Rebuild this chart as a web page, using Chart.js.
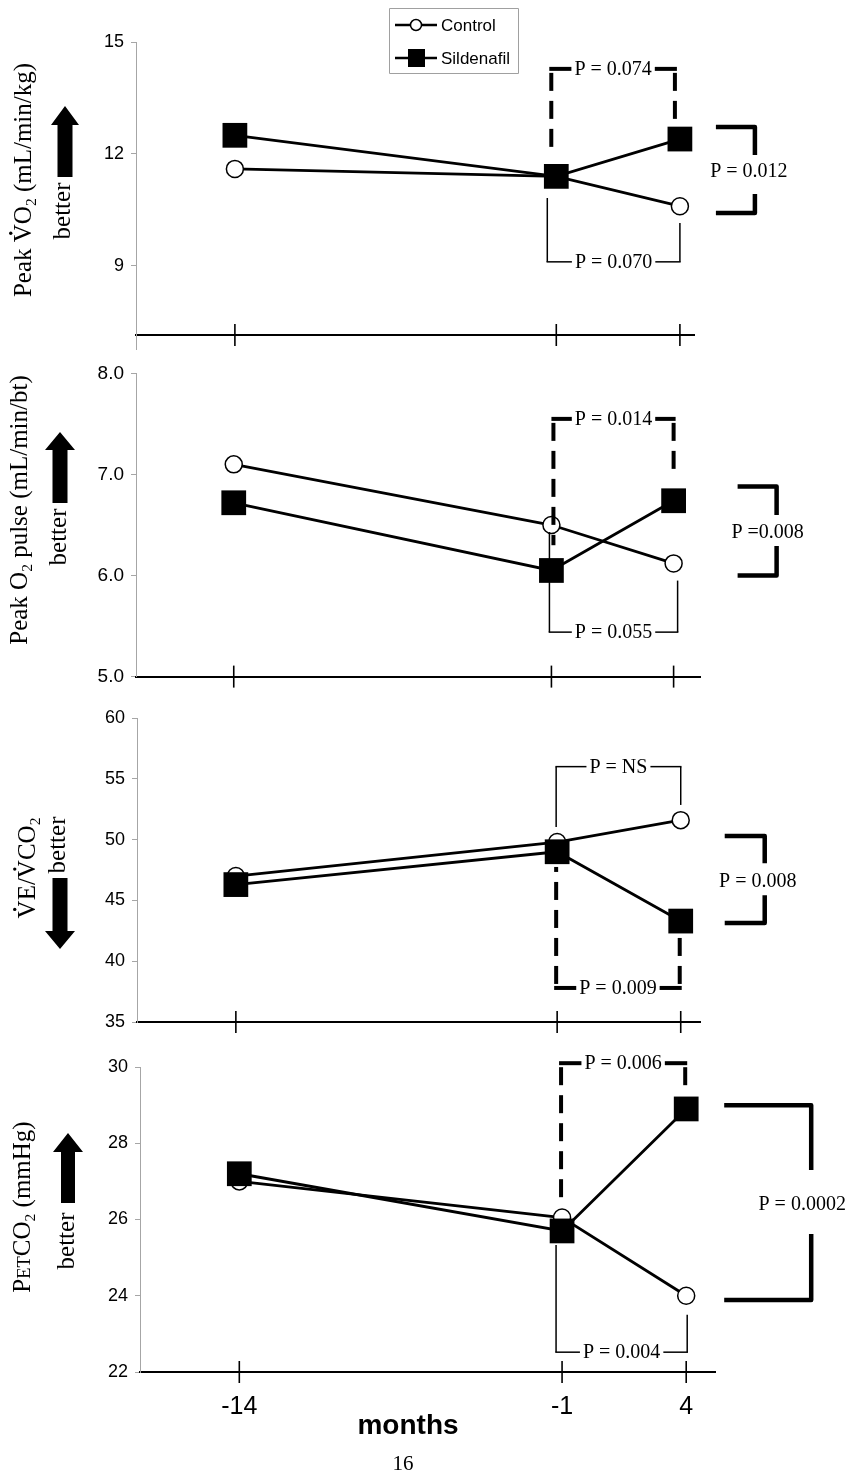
<!DOCTYPE html>
<html>
<head>
<meta charset="utf-8">
<script src="https://cdn.jsdelivr.net/npm/chart.js@4.4.0/dist/chart.umd.min.js"></script>
<style>
  body { margin: 0; background: #fff; }
  #page { position: relative; width: 856px; height: 1478px; }
  canvas { position: absolute; left: 0; }
</style>
</head>
<body>
<div id="page">
  <canvas id="c1" width="856" height="360" style="top:0px"></canvas>
  <canvas id="c2" width="856" height="340" style="top:355px"></canvas>
  <canvas id="c3" width="856" height="345" style="top:695px"></canvas>
  <canvas id="c4" width="856" height="443" style="top:1035px"></canvas>
</div>
<script>
// months from baseline, shared by all four panels
const months = [-14, -1, 4];
const monthLabels = ['-14', '-1', '4'];
const seriesNames = ['Control', 'Sildenafil'];

// Peak VO2 (mL/min/kg)
const vo2Control = [11.6, 11.4, 10.6];
const vo2Sildenafil = [12.5, 11.4, 12.4];
const vo2Ticks = [9, 12, 15];

// Peak O2 pulse (mL/min/bt)
const pulseControl = [7.1, 6.5, 6.12];
const pulseSildenafil = [6.72, 6.05, 6.74];
const pulseTicks = [5, 6, 7, 8];

// VE/VCO2
const vecoControl = [47.0, 49.8, 51.6];
const vecoSildenafil = [46.3, 49.0, 43.3];
const vecoTicks = [35, 40, 45, 50, 55, 60];

// PETCO2 (mmHg)
const petControl = [27.0, 26.05, 24.0];
const petSildenafil = [27.2, 25.7, 28.9];
const petTicks = [22, 24, 26, 28, 30];

const SERIF = '"Liberation Serif", "Times New Roman", serif';
const SANS = '"Liberation Sans", Arial, sans-serif';

// panel layout + decorations (title, arrow, p-value brackets)
const panels = [
    {
        id: 'c1', top: 0, control: vo2Control, sild: vo2Sildenafil, ticks: vo2Ticks,
        yMin: 7.15, yMax: 15, dec: 0, tickSize: 18, left: 136, xMax: 4.57,
        pad: { top: 42, bottom: 25, right: 162 },
        title: [['Peak '], ['V', 'dot'], ['O'], ['2', 'sub'], [' (mL/min/kg)']], tcx: 23, tcy: 180,
        better: [62, 211], arrow: { cx: 65, tip: 106, head: 125, tail: 177, shaft: 15, headW: 28 },
        brackets: [
            { dashed: true, xl: [-1, -5], xr: [4, -5], yH: 14.28, yL: 12.13, yR: 12.88, text: 'P = 0.074' },
            { dashed: false, xl: [-1, -9], xr: [4, 0], yH: 9.11, yL: 10.82, yR: 10.15, text: 'P = 0.070' }
        ],
        side: { xa: [4, 36], xb: [4, 75], yTop: 12.72, yBot: 10.42, yText: 11.52, tx: [4, 69], gap: [17, 22], text: 'P = 0.012' },
        legend: true, axisTail: 15
    },
    {
        id: 'c2', top: 355, control: pulseControl, sild: pulseSildenafil, ticks: pulseTicks,
        yMin: 5, yMax: 8, dec: 1, tickSize: 19, left: 136, xMax: 5.08,
        pad: { top: 17, bottom: 18, right: 156 },
        title: [['Peak O'], ['2', 'sub'], [' pulse (mL/min/bt)']], tcx: 19, tcy: 510,
        better: [58, 537], arrow: { cx: 60, tip: 432, head: 450, tail: 503, shaft: 15, headW: 30 },
        brackets: [
            { dashed: true, xl: [-1, 2], xr: [4, 0], yH: 7.55, yL: 6.3, yR: 6.97, text: 'P = 0.014' },
            { dashed: false, xl: [-1, -2], xr: [4, 4], yH: 5.44, yL: 6.43, yR: 5.95, text: 'P = 0.055' }
        ],
        side: { xa: [4, 64], xb: [4, 103], yTop: 6.88, yBot: 6.0, yText: 6.42, tx: [4, 94], gap: [18, 13], text: 'P =0.008' }
    },
    {
        id: 'c3', top: 695, control: vecoControl, sild: vecoSildenafil, ticks: vecoTicks,
        yMin: 35, yMax: 60, dec: 0, tickSize: 18, left: 137, xMax: 4.78,
        pad: { top: 23, bottom: 18, right: 156 },
        title: [['V', 'dot'], ['E/'], ['V', 'dot'], ['CO'], ['2', 'sub']], tcx: 27, tcy: 868,
        better: [57, 845], arrow: { cx: 60, tip: 949, head: 931, tail: 878, shaft: 15, headW: 30 },
        brackets: [
            { dashed: false, xl: [-1, -1], xr: [4, 0], yH: 56.0, yL: 51.04, yR: 52.85, text: 'P = NS' },
            { dashed: true, xl: [-1, -1], xr: [4, -1], yH: 37.8, yL: 47.75, yR: 41.99, text: 'P = 0.009' }
        ],
        side: { xa: [4, 44], xb: [4, 84], yTop: 50.3, yBot: 43.14, yText: 46.5, tx: [4, 77], gap: [19, 13], text: 'P = 0.008' }
    },
    {
        id: 'c4', top: 1035, control: petControl, sild: petSildenafil, ticks: petTicks,
        yMin: 22, yMax: 30, dec: 0, tickSize: 18, left: 140, xMax: 5.16,
        pad: { top: 32, bottom: 106, right: 141 },
        title: [['P'], ['ET', 'sc'], ['CO'], ['2', 'sub'], [' (mmHg)']], tcx: 22, tcy: 1207,
        better: [66, 1241], arrow: { cx: 68, tip: 1133, head: 1152, tail: 1203, shaft: 14, headW: 30 },
        brackets: [
            { dashed: true, xl: [-1, -1], xr: [4, -1], yH: 30.1, yL: 26.43, yR: 29.34, text: 'P = 0.006' },
            { dashed: false, xl: [-1, -6], xr: [4, 1], yH: 22.52, yL: 25.33, yR: 23.5, text: 'P = 0.004' }
        ],
        side: { xa: [4, 38], xb: [4, 125], yTop: 29.0, yBot: 23.89, yText: 26.38, tx: [4, 116], gap: [35, 29], text: 'P = 0.0002' },
        xLabels: true
    }
];

function toXY(values) {
    return months.map((m, i) => ({ x: m, y: values[i] }));
}

function partFont(kind, size) {
    let s = size;
    if (kind === 'sub') s = size * 0.62;
    if (kind === 'sc') s = size * 0.74;
    return s + 'px ' + SERIF;
}

// rotated axis title made of pieces (normal / subscript / small caps / dotted letter)
function drawRotated(ctx, parts, cx, cy, size) {
    ctx.save();
    ctx.translate(cx, cy);
    ctx.rotate(-Math.PI / 2);
    ctx.textAlign = 'left';
    ctx.textBaseline = 'alphabetic';
    ctx.fillStyle = '#000';
    let total = 0;
    parts.forEach(p => {
        ctx.font = partFont(p[1], size);
        total += ctx.measureText(p[0]).width;
    });
    let x = -total / 2;
    const base = size * 0.33;
    parts.forEach(p => {
        ctx.font = partFont(p[1], size);
        const w = ctx.measureText(p[0]).width;
        const y = p[1] === 'sub' ? base + size * 0.2 : base;
        ctx.fillText(p[0], x, y);
        if (p[1] === 'dot') {
            ctx.beginPath();
            ctx.arc(x + w / 2, base - size * 0.66 - 4, 1.7, 0, Math.PI * 2);
            ctx.fill();
        }
        x += w;
    });
    ctx.restore();
}

function drawArrow(ctx, a) {
    const hs = a.shaft / 2, hh = a.headW / 2;
    ctx.beginPath();
    ctx.moveTo(a.cx, a.tip);
    ctx.lineTo(a.cx + hh, a.head);
    ctx.lineTo(a.cx + hs, a.head);
    ctx.lineTo(a.cx + hs, a.tail);
    ctx.lineTo(a.cx - hs, a.tail);
    ctx.lineTo(a.cx - hs, a.head);
    ctx.lineTo(a.cx - hh, a.head);
    ctx.closePath();
    ctx.fill();
}

function seg(ctx, x1, y1, x2, y2) {
    ctx.beginPath();
    ctx.moveTo(x1, y1);
    ctx.lineTo(x2, y2);
    ctx.stroke();
}

// vertical dashed stroke, drawn piece by piece from the corner
function dashV(ctx, x, yFrom, yTo) {
    const dir = yTo > yFrom ? 1 : -1;
    const len = Math.abs(yTo - yFrom);
    let pos = 4;
    while (pos < len) {
        const end = Math.min(pos + 18, len);
        seg(ctx, x, yFrom + dir * pos, x, yFrom + dir * end);
        pos = end + 10;
    }
}

function drawBracket(ctx, xs, ys, b) {
    const xl = xs.getPixelForValue(b.xl[0]) + b.xl[1];
    const xr = xs.getPixelForValue(b.xr[0]) + b.xr[1];
    const yh = ys.getPixelForValue(b.yH);
    const yl = ys.getPixelForValue(b.yL);
    const yr = ys.getPixelForValue(b.yR);
    ctx.font = '20px ' + SERIF;
    const tw = ctx.measureText(b.text).width;
    const tx = (xl + xr) / 2;
    ctx.lineCap = 'butt';
    if (b.dashed) {
        ctx.lineWidth = 4;
        dashV(ctx, xl, yh, yl);
        dashV(ctx, xr, yh, yr);
        seg(ctx, xl - 2, yh, tx - tw / 2 - 3, yh);
        seg(ctx, tx + tw / 2 + 3, yh, xr + 2, yh);
    } else {
        ctx.lineWidth = 1.5;
        seg(ctx, xl, yh, xl, yl);
        seg(ctx, xr, yh, xr, yr);
        seg(ctx, xl - 0.75, yh, tx - tw / 2 - 3, yh);
        seg(ctx, tx + tw / 2 + 3, yh, xr + 0.75, yh);
    }
    ctx.textAlign = 'center';
    ctx.textBaseline = 'middle';
    ctx.fillText(b.text, tx, yh + 1);
}

function drawSide(ctx, xs, ys, s) {
    const xa = xs.getPixelForValue(s.xa[0]) + s.xa[1];
    const xb = xs.getPixelForValue(s.xb[0]) + s.xb[1];
    const yt = ys.getPixelForValue(s.yTop);
    const yb = ys.getPixelForValue(s.yBot);
    const ym = ys.getPixelForValue(s.yText);
    ctx.lineWidth = 4.5;
    ctx.lineJoin = 'round';
    ctx.beginPath();
    ctx.moveTo(xa, yt);
    ctx.lineTo(xb, yt);
    ctx.lineTo(xb, ym - s.gap[0]);
    ctx.stroke();
    ctx.beginPath();
    ctx.moveTo(xb, ym + s.gap[1]);
    ctx.lineTo(xb, yb);
    ctx.lineTo(xa, yb);
    ctx.stroke();
    ctx.font = '20px ' + SERIF;
    ctx.textAlign = 'center';
    ctx.textBaseline = 'middle';
    ctx.fillText(s.text, xs.getPixelForValue(s.tx[0]) + s.tx[1], ym);
}

function drawLegend(ctx, chart) {
    const names = chart.data.datasets.map(d => d.label);
    ctx.strokeStyle = '#a0a0a0';
    ctx.lineWidth = 1;
    ctx.strokeRect(389.5, 8.5, 129, 65);
    ctx.strokeStyle = '#000';
    ctx.fillStyle = '#000';
    ctx.font = '17px ' + SANS;
    ctx.textAlign = 'left';
    ctx.textBaseline = 'middle';
    [25, 58].forEach((y, i) => {
        ctx.lineWidth = 2.5;
        seg(ctx, 395, y, 437, y);
        if (i === 0) {
            ctx.beginPath();
            ctx.arc(416, y, 5.5, 0, Math.PI * 2);
            ctx.fillStyle = '#fff';
            ctx.fill();
            ctx.lineWidth = 1.5;
            ctx.stroke();
            ctx.fillStyle = '#000';
        } else {
            ctx.fillRect(408, y - 9, 17, 18);
        }
        ctx.fillText(names[i], 441, y + 1);
    });
}

function decorPlugin(p) {
    return {
        id: 'decor',
        afterDraw(chart) {
            const ctx = chart.ctx;
            const xs = chart.scales.x, ys = chart.scales.y;
            const area = chart.chartArea;
            ctx.save();
            ctx.setLineDash([]);
            ctx.strokeStyle = '#000';
            ctx.fillStyle = '#000';

            // grey axis continues a little below the baseline
            if (p.axisTail) {
                ctx.strokeStyle = '#a6a6a6';
                ctx.lineWidth = 1;
                seg(ctx, area.left + 0.5, area.bottom, area.left + 0.5, area.bottom + p.axisTail);
                ctx.strokeStyle = '#000';
            }

            // x tick marks crossing the axis line
            ctx.lineWidth = 1.6;
            months.forEach(m => {
                const x = xs.getPixelForValue(m);
                seg(ctx, x, area.bottom - 11, x, area.bottom + 11);
            });

            if (p.xLabels) {
                ctx.font = '25px ' + SANS;
                ctx.textAlign = 'center';
                ctx.textBaseline = 'alphabetic';
                months.forEach((m, i) => ctx.fillText(monthLabels[i], xs.getPixelForValue(m), area.bottom + 42));
                ctx.font = 'bold 28px ' + SANS;
                ctx.fillText('months', 408, area.bottom + 62);
                ctx.font = '21px ' + SERIF;
                ctx.fillText('16', 403, area.bottom + 98);
            }

            p.brackets.forEach(b => drawBracket(ctx, xs, ys, b));
            drawSide(ctx, xs, ys, p.side);
            if (p.legend) drawLegend(ctx, chart);

            // page-coordinate decorations
            ctx.translate(0, -p.top);
            drawRotated(ctx, p.title, p.tcx, p.tcy, 25);
            drawRotated(ctx, [['better']], p.better[0], p.better[1], 25);
            drawArrow(ctx, p.arrow);
            ctx.restore();
        }
    };
}

function makePanel(p) {
    const ctx = document.getElementById(p.id).getContext('2d');
    return new Chart(ctx, {
        type: 'line',
        data: {
            datasets: [
                {
                    label: seriesNames[0],
                    data: toXY(p.control),
                    borderColor: '#000',
                    borderWidth: 2.8,
                    pointStyle: 'circle',
                    pointRadius: 8.5,
                    pointBackgroundColor: '#fff',
                    pointBorderColor: '#000',
                    pointBorderWidth: 1.5,
                    order: 1,
                    clip: false
                },
                {
                    label: seriesNames[1],
                    data: toXY(p.sild),
                    borderColor: '#000',
                    borderWidth: 2.8,
                    pointStyle: 'rect',
                    pointRadius: 17.5,
                    pointBackgroundColor: '#000',
                    pointBorderColor: '#000',
                    pointBorderWidth: 0,
                    order: 0,
                    clip: false
                }
            ]
        },
        options: {
            responsive: false,
            animation: false,
            devicePixelRatio: 1,
            events: [],
            layout: { padding: { left: 0, top: p.pad.top, bottom: p.pad.bottom, right: p.pad.right } },
            plugins: { legend: { display: false }, tooltip: { enabled: false } },
            scales: {
                x: {
                    type: 'linear',
                    min: -18,
                    max: p.xMax,
                    ticks: { display: false },
                    grid: { drawOnChartArea: false, drawTicks: false },
                    border: { display: true, color: '#000', width: 2 },
                    afterFit: s => { s.height = 0; }
                },
                y: {
                    min: p.yMin,
                    max: p.yMax,
                    afterBuildTicks: ax => { ax.ticks = p.ticks.map(v => ({ value: v })); },
                    ticks: {
                        color: '#000',
                        padding: 7,
                        font: { family: SANS, size: p.tickSize },
                        callback: v => Number(v).toFixed(p.dec)
                    },
                    grid: { drawOnChartArea: false, color: '#a6a6a6', tickLength: 5, lineWidth: 1 },
                    border: { color: '#a6a6a6', width: 1 },
                    afterFit: s => { s.width = p.left; }
                }
            }
        },
        plugins: [decorPlugin(p)]
    });
}

panels.forEach(makePanel);
</script>
</body>
</html>
